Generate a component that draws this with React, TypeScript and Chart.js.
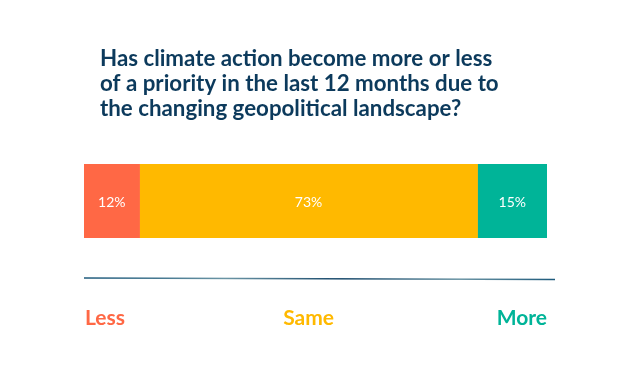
import React, { useEffect, useRef } from "react";
import { Chart, registerables } from "chart.js";

Chart.register(...registerables);

const categories = ["Less", "Same", "More"];
const values = [12, 73, 15];
const colors = ["#FF6845", "#FFB900", "#00B498"];
const titleLines = [
  "Has climate action become more or less",
  "of a priority in the last 12 months due to",
  "the changing geopolitical landscape?",
];

const W = 631;
const H = 386;

const overlayPlugin = {
  id: "overlay",
  afterDatasetsDraw(chart: any) {
    const ctx = chart.ctx;
    ctx.save();
    ctx.font = "14px Lato, 'Open Sans', sans-serif";
    ctx.fillStyle = "#FFFFFF";
    ctx.textAlign = "center";
    ctx.textBaseline = "middle";
    chart.data.datasets.forEach((ds: any, i: number) => {
      const el = chart.getDatasetMeta(i).data[0];
      if (!el) return;
      const p = el.getProps(["x", "y", "base"], true);
      const cx = (p.x + p.base) / 2;
      ctx.fillText(values[i] + "%", cx, p.y + 1);
    });
    ctx.restore();
  },
  afterDraw(chart: any) {
    const ctx = chart.ctx;
    const area = chart.chartArea;
    ctx.save();
    ctx.font = "bold 22.3px Lato, 'Open Sans', sans-serif";
    ctx.fillStyle = "#0C3A5C";
    ctx.textAlign = "left";
    ctx.textBaseline = "alphabetic";
    titleLines.forEach((t, i) => {
      ctx.fillText(t, 100, 66 + i * 25);
    });
    const grad = ctx.createLinearGradient(area.left, 0, area.right + 8, 0);
    grad.addColorStop(0, "#1E5A7C");
    grad.addColorStop(0.3, "#6A94A4");
    grad.addColorStop(0.55, "#1A4A6C");
    grad.addColorStop(0.8, "#6A94A4");
    grad.addColorStop(1, "#1E5A7C");
    ctx.strokeStyle = grad;
    ctx.lineWidth = 1.6;
    ctx.beginPath();
    ctx.moveTo(area.left, area.bottom + 40);
    ctx.lineTo(area.right + 8, area.bottom + 41.5);
    ctx.stroke();
    ctx.font = "bold 21px Lato, 'Open Sans', sans-serif";
    ctx.textBaseline = "alphabetic";
    const aligns = ["left", "center", "right"];
    chart.data.datasets.forEach((ds: any, i: number) => {
      const el = chart.getDatasetMeta(i).data[0];
      if (!el) return;
      const p = el.getProps(["x", "base"], true);
      const l = Math.min(p.x, p.base);
      const r = Math.max(p.x, p.base);
      const x = aligns[i] === "left" ? l + 1 : aligns[i] === "right" ? r : (l + r) / 2;
      ctx.textAlign = aligns[i];
      ctx.fillStyle = colors[i];
      ctx.fillText(categories[i], x, area.bottom + 87);
    });
    ctx.restore();
  },
};

export default function App() {
  const ref = useRef<HTMLCanvasElement | null>(null);
  useEffect(() => {
    if (!ref.current) return;
    const chart = new Chart(ref.current, {
      type: "bar",
      data: {
        labels: [""],
        datasets: categories.map((c, i) => ({
          label: c,
          data: [values[i]],
          backgroundColor: colors[i],
          borderWidth: 0,
          barPercentage: 1,
          categoryPercentage: 1,
        })),
      },
      options: {
        indexAxis: "y",
        responsive: false,
        animation: false,
        layout: { padding: { left: 84, right: 84, top: 164, bottom: H - 238 } },
        plugins: {
          legend: { display: false },
          title: { display: false },
          tooltip: { enabled: false },
        },
        scales: {
          x: { stacked: true, min: 0, max: 100, display: false },
          y: { stacked: true, display: false },
        },
      },
      plugins: [overlayPlugin],
    } as any);
    return () => chart.destroy();
  }, []);
  return (
    <div style={{ position: "fixed", left: 0, top: 0, width: W, height: H, background: "#fff" }}>
      <canvas ref={ref} width={W} height={H} style={{ width: W, height: H }} />
    </div>
  );
}
